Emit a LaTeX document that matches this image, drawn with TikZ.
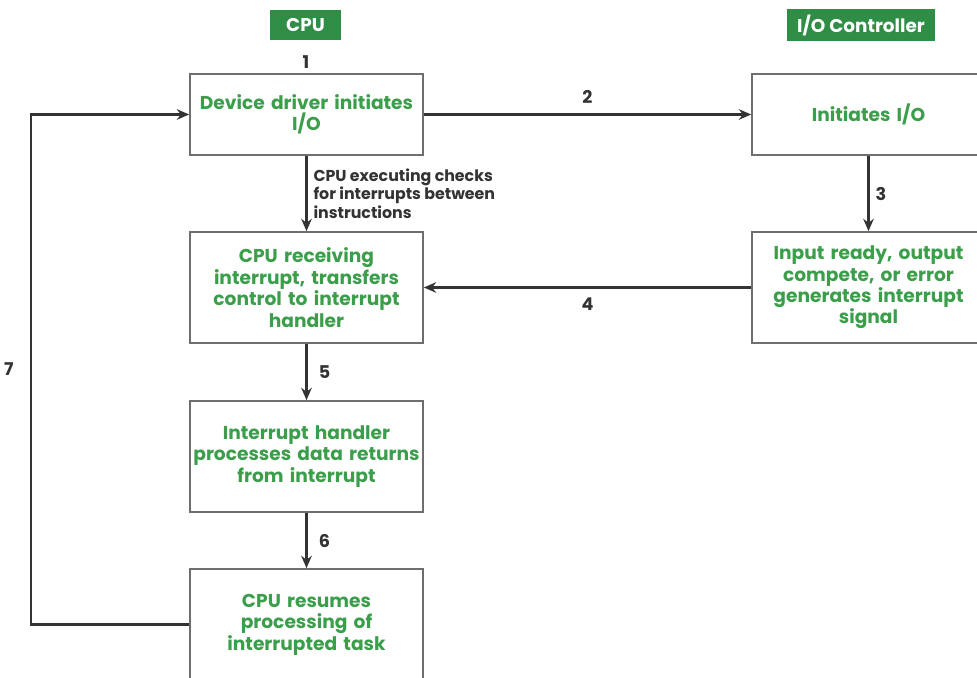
\documentclass[tikz,border=0pt]{standalone}
\usepackage{fontspec}
\setmainfont{Poppins}
\usetikzlibrary{arrows.meta}
\definecolor{hdgreen}{RGB}{47,141,70}
\definecolor{txgreen}{RGB}{58,158,74}
\definecolor{lngray}{RGB}{51,51,51}
\definecolor{bxgray}{RGB}{110,110,110}
\tikzset{
  stepbox/.style={draw=bxgray,line width=1pt,minimum width=4.66cm,text width=4.55cm,
    inner xsep=0.5pt,align=center,text=txgreen,font=\bfseries\fontsize{10.6}{12.2}\selectfont},
  header/.style={fill=hdgreen,text=white,minimum height=0.6cm,
    font=\bfseries\fontsize{10.5}{12}\selectfont},
  flow/.style={->,draw=lngray,line width=1.3pt},
  num/.style={text=lngray,font=\bfseries\fontsize{10}{12}\selectfont}
}
\begin{document}
\begin{tikzpicture}[x=0.02cm,y=-0.02cm,>={Stealth[length=7pt,width=6pt]}]
\useasboundingbox (0,0) rectangle (977,678);
\clip (0,0) rectangle (977,678);
\fill[white] (0,0) rectangle (977,678);

\node[header,minimum width=1.42cm] (cpu) at (305.5,25) {CPU};
\node[header,minimum width=2.96cm] (ioc) at (861,25) {I/O Controller};

\node[stepbox,minimum height=1.62cm] (drv) at (306.5,114.5) {Device driver initiates\\I/O};
\node[stepbox,minimum height=1.62cm] (ini) at (868.5,114.5) {Initiates I/O};
\node[stepbox,minimum height=2.22cm] (rcv) at (306.5,287.5) {CPU receiving\\interrupt, transfers\\control to interrupt\\handler};
\node[stepbox,minimum height=2.22cm] (sig) at (868.5,287.5) {Input ready, output\\compete, or error\\generates interrupt\\signal};
\node[stepbox,minimum height=2.22cm] (hnd) at (306.5,456.5) {Interrupt handler\\processes data returns\\from interrupt};
\node[stepbox,minimum height=2.22cm] (res) at (306.5,624.5) {CPU resumes\\processing of\\interrupted task};

\node[num] (n1) at (306,62) {1};

\draw[flow] (drv) -- node[num,above=2pt] {2} (ini);
\draw[flow] (drv) -- node[right,text=lngray,align=left,
  font=\bfseries\fontsize{9}{10.5}\selectfont] {CPU executing checks\\for interrupts between\\instructions} (rcv);
\draw[flow] (ini) -- node[num,right] {3} (sig);
\draw[flow] (sig) -- node[num,below=2pt] {4} (rcv);
\draw[flow] (rcv) -- node[num,right=3pt] {5} (hnd);
\draw[flow] (hnd) -- node[num,right=3pt] {6} (res);
\draw[flow] (res.west) -- ++(-158,0) |- node[num,left=6pt,pos=0.25] {7} (drv.west);
\end{tikzpicture}
\end{document}
